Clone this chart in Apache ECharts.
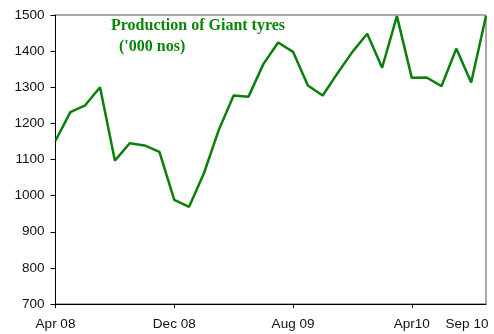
<!DOCTYPE html>
<html>
<head>
<meta charset="utf-8">
<script src="https://cdn.jsdelivr.net/npm/echarts@6/dist/echarts.min.js"></script>
<style>
  html, body { margin: 0; padding: 0; background: #fff; }
  #chart { width: 494px; height: 334px; }
</style>
</head>
<body>
<div id="chart"></div>
<script>
// Monthly production, Apr 2008 – Sep 2010 ('000 nos)
const months = [
  'Apr 08', 'May 08', 'Jun 08', 'Jul 08', 'Aug 08', 'Sep 08', 'Oct 08', 'Nov 08',
  'Dec 08', 'Jan 09', 'Feb 09', 'Mar 09', 'Apr 09', 'May 09', 'Jun 09', 'Jul 09',
  'Aug 09', 'Sep 09', 'Oct 09', 'Nov 09', 'Dec 09', 'Jan 10', 'Feb 10', 'Mar 10',
  'Apr 10', 'May 10', 'Jun 10', 'Jul 10', 'Aug 10', 'Sep 10'
];
const production = [
  1152, 1231, 1250, 1300, 1097, 1145, 1139, 1121,
  988, 969, 1062, 1182, 1277, 1274, 1364, 1424,
  1398, 1305, 1277, 1339, 1398, 1448, 1354, 1497,
  1326, 1327, 1303, 1407, 1313, 1497
];
// Labels shown under the axis, keyed by month index
const tickLabels = { 0: 'Apr 08', 8: 'Dec 08', 16: 'Aug 09', 24: 'Apr10', 29: 'Sep 10' };
const tickedMonths = [0, 8, 16, 24];

const titleStyle = { fontFamily: 'Liberation Serif', fontWeight: 'bold', fontSize: 16, color: '#0a850a' };

const chart = echarts.init(document.getElementById('chart'), null, { renderer: 'canvas' });
chart.setOption({
  animation: false,
  backgroundColor: '#fff',
  grid: {
    left: 55.5, right: 8, top: 15, bottom: 30,
    show: true, borderColor: '#555', borderWidth: 1, backgroundColor: 'transparent'
  },
  title: [
    { text: 'Production of Giant tyres', left: 111, top: 18, padding: 0, textStyle: titleStyle },
    { text: "('000 nos)", left: 119, top: 39, padding: 0, textStyle: titleStyle }
  ],
  xAxis: {
    type: 'category',
    data: months,
    boundaryGap: false,
    axisLine: { lineStyle: { color: '#000', width: 1 } },
    axisTick: {
      length: 4,
      interval: (i) => tickedMonths.includes(i),
      lineStyle: { color: '#000' }
    },
    axisLabel: {
      interval: (i) => tickLabels[i] !== undefined,
      margin: 13,
      fontFamily: 'Liberation Sans',
      fontSize: 13.5,
      color: '#111',
      formatter: (v, i) => i === 29 ? '{s|' + tickLabels[i] + '}' : tickLabels[i],
      rich: { s: { fontFamily: 'Liberation Sans', fontSize: 13.5, color: '#111', padding: [0, 38, 0, 0] } }
    },
    splitLine: { show: false }
  },
  yAxis: {
    type: 'value',
    min: 700, max: 1500, interval: 100,
    axisLine: { show: true, lineStyle: { color: '#000', width: 1 } },
    axisTick: { show: true, length: 5, lineStyle: { color: '#000' } },
    axisLabel: {
      margin: 11, fontFamily: 'Liberation Sans', fontSize: 13.5, color: '#111',
      formatter: (v) => String(v)
    },
    splitLine: { show: false }
  },
  series: [{
    type: 'line',
    data: production,
    symbol: 'none',
    clip: false,
    lineStyle: { color: '#0a7f0a', width: 2.5 }
  }]
});
</script>
</body>
</html>
